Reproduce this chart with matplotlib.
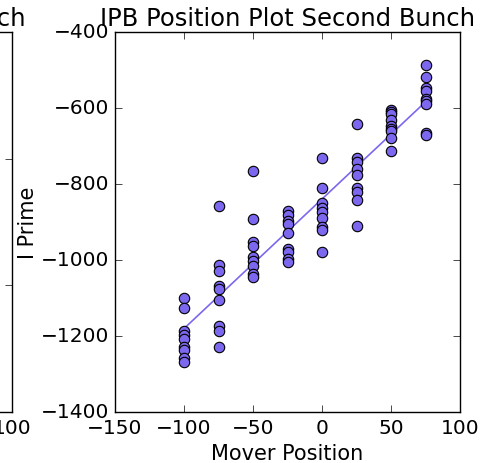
import matplotlib
matplotlib.use('Agg')
import matplotlib.pyplot as plt
import numpy as np

# mover positions and the measured I' values at each one
positions = [-100, -75, -50, -25, 0, 25, 50, 75]
i_prime = [
    [-1099, -1127, -1188, -1197, -1208, -1228, -1237, -1259, -1268],
    [-858, -1013, -1028, -1068, -1077, -1105, -1175, -1186, -1228],
    [-766, -893, -952, -962, -993, -1004, -1016, -1037, -1044],
    [-871, -882, -897, -905, -928, -971, -978, -997, -1006],
    [-731, -811, -851, -864, -873, -890, -912, -921, -978],
    [-642, -732, -741, -761, -776, -811, -820, -842, -911],
    [-605, -610, -615, -632, -648, -655, -660, -680, -713],
    [-487, -518, -548, -555, -577, -582, -590, -665, -670],
]

plt.style.use('classic')
plt.rcParams['font.family'] = ['DejaVu Sans']

x = np.repeat(positions, [len(v) for v in i_prime])
y = np.concatenate(i_prime)

fig = plt.figure(figsize=(5.0, 4.64), dpi=100, facecolor='white')

# first bunch panel, only its right edge falls inside the figure
ax1 = fig.add_axes([0.024 - 0.62, 0.11, 0.62, 0.819])
ax1.set_xlim(-150, 100)
ax1.set_ylim(-1500, 0)
ax1.set_yticks([-1500, -1000, -500, 0])
ax1.tick_params(labelsize=14.5, length=5)
ax1.set_title('IPB Position Plot First Bunch', fontsize=17.5)

ax = fig.add_axes([0.23, 0.11, 0.69, 0.819])
fit = np.polyfit(x, y, 1)
xf = np.array([min(positions), max(positions)])
ax.plot(xf, np.polyval(fit, xf), '-', color='mediumslateblue', lw=1.2)
ax.plot(x, y, 'o', color='mediumslateblue', mec='black', mew=0.8, ms=7.5)
ax.set_xlim(-150, 100)
ax.set_ylim(-1400, -400)
ax.tick_params(labelsize=14.5, length=5)
ax.set_title('IPB Position Plot Second Bunch', fontsize=17.5)
ax.set_xlabel('Mover Position', fontsize=15)
ax.set_ylabel('I Prime', fontsize=15, labelpad=2)

fig.savefig('out.png', dpi=100, facecolor='white')
